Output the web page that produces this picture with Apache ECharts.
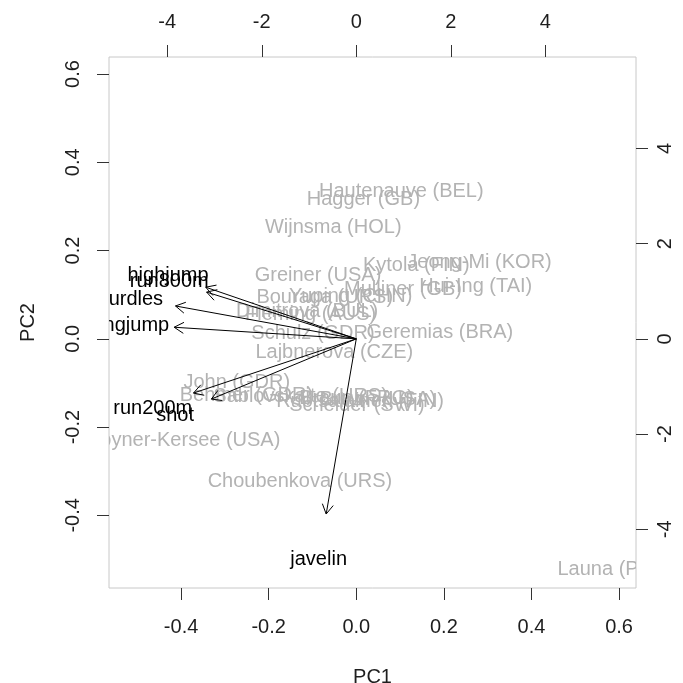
<!DOCTYPE html>
<html>
<head>
<meta charset="utf-8">
<title>Heptathlon PCA biplot</title>
<script src="https://cdn.jsdelivr.net/npm/echarts@6/dist/echarts.min.js"></script>
<style>
  html, body { margin: 0; padding: 0; background: #ffffff; }
  #chart { width: 683px; height: 683px; }
</style>
</head>
<body>
<div id="chart"></div>
<script>
// Athlete scores on the first two principal components (scaled, bottom/left axes)
const athletes = [
  'Joyner-Kersee (USA)', 'John (GDR)', 'Behmer (GDR)', 'Sablovskaite (URS)',
  'Choubenkova (URS)', 'Schulz (GDR)', 'Fleming (AUS)', 'Greiner (USA)',
  'Lajbnerova (CZE)', 'Bouraga (URS)', 'Wijnsma (HOL)', 'Dimitrova (BUL)',
  'Scheider (SWI)', 'Braun (FRG)', 'Ruotsalainen (FIN)', 'Yuping (CHN)',
  'Hagger (GB)', 'Brown (USA)', 'Mulliner (GB)', 'Hautenauve (BEL)',
  'Kytola (FIN)', 'Geremias (BRA)', 'Hui-Ing (TAI)', 'Jeong-Mi (KOR)',
  'Launa (PNG)'
];
const scorePC1 = [
  -0.3903, -0.2729, -0.2509, -0.1272, -0.1287, -0.0989, -0.1042, -0.0874,
  -0.0502, -0.0720, -0.0527, -0.1124, 0.0015, 0.0004, 0.0086, -0.0130,
  0.0162, 0.0492, 0.1066, 0.1028, 0.1370, 0.1907, 0.2728, 0.2813, 0.5938
];
const scorePC2 = [
  -0.2274, -0.0958, -0.1242, -0.1267, -0.3208, 0.0145, 0.0593, 0.1477,
  -0.0268, 0.0963, 0.2555, 0.0647, -0.1476, -0.1308, -0.1396, 0.0983,
  0.3190, -0.1330, 0.1162, 0.3381, 0.1692, 0.0170, 0.1211, 0.1756, -0.5196
];

// Variable loadings (scaled, top/right axes)
const variables = ['hurdles', 'highjump', 'shot', 'run200m', 'longjump', 'javelin', 'run800m'];
const loadPC1 = [-4.782, -3.983, -3.834, -4.307, -4.818, -0.796, -3.959];
const loadPC2 = [0.863, 1.356, -1.581, -1.423, 0.305, -4.599, 1.227];

// Axis limits and tick marks
const scoreLimits = [-0.5646, 0.6386];
const loadLimits = [-5.233, 5.920];
const scoreTicks = [-0.4, -0.2, 0.0, 0.2, 0.4, 0.6];
const loadTicks = [-4, -2, 0, 2, 4];

const FONT = '"Liberation Sans", Arial, sans-serif';
const TICK_COLOR = '#333333';
const LABEL_COLOR = '#1e1e1e';
const SCORE_COLOR = '#b3b3b3';
const TEXT_DROP = 1.5; // text sits slightly below its anchor's geometric middle

function valueAxis(position, limits, ticks, fmt, extra) {
  return Object.assign({
    type: 'value',
    position: position,
    min: limits[0],
    max: limits[1],
    axisLine: { show: false, onZero: false },
    splitLine: { show: false },
    axisTick: {
      show: true,
      customValues: ticks,
      length: 12,
      lineStyle: { color: TICK_COLOR, width: 1 }
    },
    axisLabel: {
      customValues: ticks,
      formatter: fmt,
      fontFamily: FONT,
      fontSize: 20,
      color: LABEL_COLOR
    }
  }, extra || {});
}

const fmtScore = v => Number(v).toFixed(1);
const fmtLoad = v => String(Math.round(v));

function textItem(label, p, color) {
  return {
    type: 'text',
    x: p[0], y: p[1] + TEXT_DROP,
    style: {
      text: label,
      fill: color,
      fontFamily: FONT,
      fontSize: 20,
      align: 'center',
      verticalAlign: 'middle'
    }
  };
}

const chart = echarts.init(document.getElementById('chart'), null, { renderer: 'canvas' });

const option = {
  animation: false,
  backgroundColor: '#ffffff',
  grid: {
    left: 109, top: 57, right: 47, bottom: 95,
    containLabel: false,
    outerBoundsMode: 'none',
    show: true,
    borderColor: '#c8c8c8',
    borderWidth: 1,
    backgroundColor: 'transparent'
  },
  xAxis: [
    valueAxis('bottom', scoreLimits, scoreTicks, fmtScore, {
      name: 'PC1', nameLocation: 'middle', nameGap: 79,
      nameTextStyle: { fontFamily: FONT, fontSize: 20, color: LABEL_COLOR }
    }),
    valueAxis('top', loadLimits, loadTicks, fmtLoad)
  ],
  yAxis: [
    valueAxis('left', scoreLimits, scoreTicks, fmtScore, {
      name: 'PC2', nameLocation: 'middle', nameGap: 71,
      nameTextStyle: { fontFamily: FONT, fontSize: 20, color: LABEL_COLOR }
    }),
    valueAxis('right', loadLimits, loadTicks, fmtLoad)
  ],
  series: [
    {
      // athlete names at their scores
      type: 'custom',
      xAxisIndex: 0,
      yAxisIndex: 0,
      clip: true,
      data: athletes.map((n, i) => [scorePC1[i], scorePC2[i]]),
      renderItem: function (params, api) {
        const p = api.coord([api.value(0), api.value(1)]);
        return textItem(athletes[params.dataIndex], p, SCORE_COLOR);
      }
    },
    {
      // loading arrows, drawn to 80% of each loading
      type: 'custom',
      xAxisIndex: 1,
      yAxisIndex: 1,
      clip: true,
      data: variables.map((v, i) => [loadPC1[i], loadPC2[i]]),
      renderItem: function (params, api) {
        const x = api.value(0), y = api.value(1);
        const o = api.coord([0, 0]);
        const t = api.coord([x * 0.8, y * 0.8]);
        const ang = Math.atan2(t[1] - o[1], t[0] - o[0]);
        const L = 11, a = Math.PI / 6;
        const h1 = [t[0] - L * Math.cos(ang - a), t[1] - L * Math.sin(ang - a)];
        const h2 = [t[0] - L * Math.cos(ang + a), t[1] - L * Math.sin(ang + a)];
        return {
          type: 'group',
          children: [
            { type: 'line', shape: { x1: o[0], y1: o[1], x2: t[0], y2: t[1] },
              style: { stroke: '#000000', lineWidth: 1 } },
            { type: 'polyline', shape: { points: [h1, t, h2] },
              style: { stroke: '#000000', fill: null, lineWidth: 1 } }
          ]
        };
      }
    },
    {
      // variable names at the loadings
      type: 'custom',
      xAxisIndex: 1,
      yAxisIndex: 1,
      clip: true,
      data: variables.map((v, i) => [loadPC1[i], loadPC2[i]]),
      renderItem: function (params, api) {
        const p = api.coord([api.value(0), api.value(1)]);
        return textItem(variables[params.dataIndex], p, '#000000');
      }
    }
  ]
};

// rotated tick labels on the vertical axes
option.yAxis[0].axisLabel.rotate = 90;
option.yAxis[0].axisLabel.margin = 26;
option.yAxis[1].axisLabel.rotate = 90;
option.yAxis[1].axisLabel.margin = 19;
option.xAxis[0].axisLabel.margin = 29;
option.xAxis[1].axisLabel.margin = 25;

chart.setOption(option);
</script>
</body>
</html>
